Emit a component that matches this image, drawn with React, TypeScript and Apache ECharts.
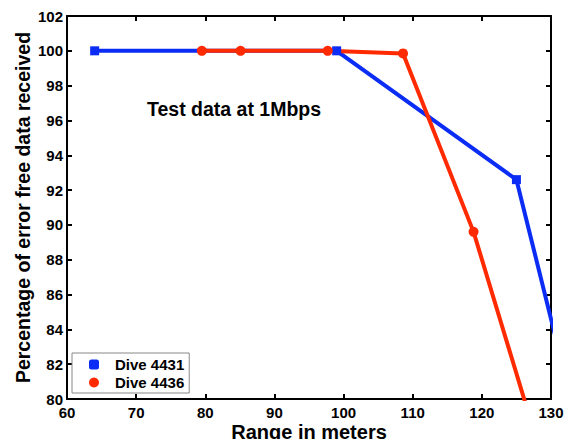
import React, { useEffect, useRef } from "react";
import * as echarts from "echarts";

const dive4431X = [64, 99, 125, 135];
const dive4431Y = [100, 100, 92.6, 76.6];
const dive4436X = [79.5, 85.1, 97.7, 108.6, 118.8, 130];
const dive4436Y = [100, 100, 100, 99.85, 89.6, 74.9];
const seriesNames = ["Dive 4431", "Dive 4436"];
const annotation = "Test data at 1Mbps";
const xTitle = "Range in meters";
const yTitle = "Percentage of error free data received";

const FONT = "'Liberation Sans', Arial, sans-serif";

export default function App() {
  const ref = useRef<HTMLDivElement>(null);
  useEffect(() => {
    document.body.style.margin = "0";
    const chart = echarts.init(ref.current!, null, { renderer: "svg" });
    const axisCommon = {
      type: "value" as const,
      axisLine: { show: true, onZero: false, lineStyle: { color: "#000", width: 2 } },
      axisTick: { show: true, inside: true, length: 5, lineStyle: { color: "#000", width: 2 } },
      splitLine: { show: false },
    };
    chart.setOption({
      animation: false,
      backgroundColor: "#fff",
      grid: { left: 67, right: 21, top: 16, bottom: 40, containLabel: false, outerBoundsMode: "none" },
      xAxis: [
        {
          ...axisCommon,
          min: 60,
          max: 130,
          interval: 10,
          name: xTitle,
          nameLocation: "middle",
          nameGap: 23,
          nameMoveOverlap: false,
          nameTextStyle: { fontFamily: FONT, fontWeight: "bold", fontSize: 20, color: "#000", verticalAlign: "top", lineHeight: 20 },
          axisLabel: { fontFamily: FONT, fontWeight: "bold", fontSize: 15, color: "#000", margin: 6 },
        },
        {
          ...axisCommon,
          position: "top",
          min: 60,
          max: 130,
          interval: 10,
          axisLabel: { show: false },
        },
      ],
      yAxis: [
        {
          ...axisCommon,
          min: 80,
          max: 102,
          interval: 2,
          name: yTitle,
          nameLocation: "middle",
          nameGap: 34,
          nameMoveOverlap: false,
          nameTextStyle: { fontFamily: FONT, fontWeight: "bold", fontSize: 19.5, color: "#000", verticalAlign: "bottom" },
          axisLabel: { fontFamily: FONT, fontWeight: "bold", fontSize: 15, color: "#000", margin: 4 },
        },
        {
          ...axisCommon,
          position: "right",
          min: 80,
          max: 102,
          interval: 2,
          axisLabel: { show: false },
        },
      ],
      legend: {
        left: 72,
        top: 353,
        orient: "vertical",
        backgroundColor: "#fff",
        borderColor: "#888",
        borderWidth: 1,
        borderRadius: 0,
        padding: [4, 5, 3, 17],
        itemGap: 3,
        itemWidth: 10,
        itemHeight: 10,
        textStyle: { fontFamily: FONT, fontWeight: "bold", fontSize: 15, color: "#000", padding: [0, 0, 0, 11] },
        data: [
          { name: seriesNames[0], icon: "roundRect" },
          { name: seriesNames[1], icon: "circle" },
        ],
      },
      graphic: [
        {
          type: "text",
          left: 147,
          top: 99,
          style: { text: annotation, fontFamily: FONT, fontWeight: "bold", fontSize: 19.5, fill: "#000" },
        },
      ],
      series: [
        {
          name: seriesNames[0],
          type: "line",
          data: dive4431X.map((x, i) => [x, dive4431Y[i]]),
          symbol: "rect",
          symbolSize: 9,
          lineStyle: { color: "#0a2cf5", width: 4 },
          itemStyle: { color: "#0a2cf5" },
          clip: true,
        },
        {
          name: seriesNames[1],
          type: "line",
          data: dive4436X.map((x, i) => [x, dive4436Y[i]]),
          symbol: "circle",
          symbolSize: 10,
          lineStyle: { color: "#ff2a00", width: 4 },
          itemStyle: { color: "#ff2a00" },
          clip: true,
        },
      ],
    });
    return () => chart.dispose();
  }, []);
  return <div ref={ref} style={{ position: "fixed", left: 0, top: 0, width: 572, height: 439 }} />;
}
